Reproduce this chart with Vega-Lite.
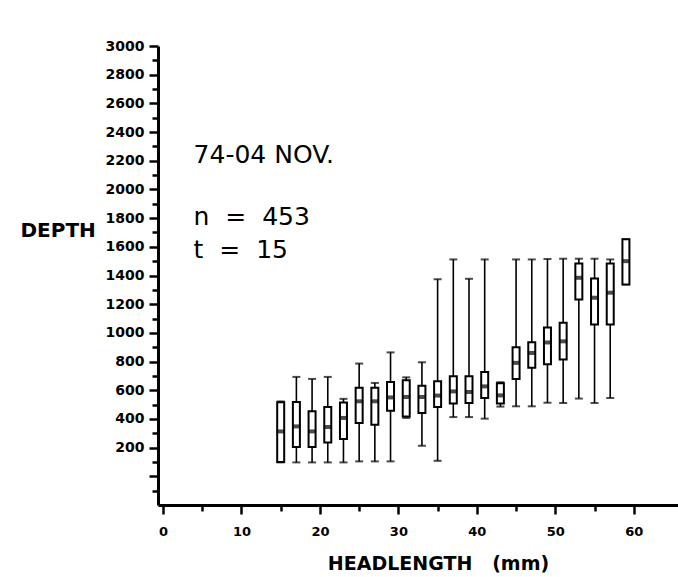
{
  "$schema": "https://vega.github.io/schema/vega-lite/v6.json",
  "width": 520,
  "height": 459,
  "autosize": {"type": "none"},
  "padding": {"left": 158, "top": 46, "right": 0, "bottom": 72},
  "datasets": {
    "boxes": [
      {"hl": 15, "min": 97, "q1": 100, "med": 313, "q3": 516, "max": 522},
      {"hl": 17, "min": 97, "q1": 204, "med": 348, "q3": 518, "max": 693},
      {"hl": 19, "min": 97, "q1": 204, "med": 313, "q3": 453, "max": 679},
      {"hl": 21, "min": 97, "q1": 236, "med": 344, "q3": 484, "max": 693},
      {"hl": 23, "min": 97, "q1": 260, "med": 407, "q3": 515, "max": 540},
      {"hl": 25, "min": 104, "q1": 372, "med": 523, "q3": 617, "max": 786},
      {"hl": 27, "min": 104, "q1": 360, "med": 523, "q3": 617, "max": 651},
      {"hl": 29, "min": 104, "q1": 457, "med": 550, "q3": 658, "max": 864},
      {"hl": 31, "min": 407, "q1": 417, "med": 553, "q3": 669, "max": 690},
      {"hl": 33, "min": 213, "q1": 442, "med": 553, "q3": 632, "max": 795},
      {"hl": 35, "min": 108, "q1": 484, "med": 563, "q3": 662, "max": 1374},
      {"hl": 37, "min": 413, "q1": 507, "med": 592, "q3": 697, "max": 1512},
      {"hl": 39, "min": 413, "q1": 511, "med": 588, "q3": 697, "max": 1377},
      {"hl": 41, "min": 402, "q1": 546, "med": 627, "q3": 727, "max": 1512},
      {"hl": 43, "min": 486, "q1": 507, "med": 564, "q3": 648, "max": 656},
      {"hl": 45, "min": 488, "q1": 679, "med": 791, "q3": 900, "max": 1512},
      {"hl": 47, "min": 488, "q1": 756, "med": 860, "q3": 935, "max": 1512},
      {"hl": 49, "min": 513, "q1": 782, "med": 933, "q3": 1037, "max": 1515},
      {"hl": 51, "min": 511, "q1": 814, "med": 941, "q3": 1070, "max": 1517},
      {"hl": 53, "min": 542, "q1": 1233, "med": 1384, "q3": 1484, "max": 1517},
      {"hl": 55, "min": 511, "q1": 1059, "med": 1245, "q3": 1379, "max": 1517},
      {"hl": 57, "min": 546, "q1": 1059, "med": 1280, "q3": 1484, "max": 1512},
      {"hl": 59, "min": 1338, "q1": 1338, "med": 1500, "q3": 1652, "max": 1652}
    ],
    "notes": [
      {"label": "74-04 NOV.", "hl": 3.9, "depth": 2240},
      {"label": "n\u00a0\u00a0=\u00a0\u00a0453", "hl": 3.9, "depth": 1808},
      {"label": "t\u00a0\u00a0=\u00a0\u00a015", "hl": 3.9, "depth": 1578}
    ]
  },
  "config": {
    "view": {"stroke": null},
    "font": "DejaVu Sans",
    "axisX": {
      "tickWidth": 2.5, "tickColor": "black",
      "domainWidth": 3, "domainColor": "black",
      "labelColor": "black", "labelFont": "DejaVu Sans", "labelFontWeight": "bold", "labelFontSize": 13,
      "labelPadding": 11, "labelFlush": false, "labelOverlap": false, "grid": false,
      "titleFont": "DejaVu Sans", "titleFontSize": 19, "titleFontWeight": "bold",
      "titleColor": "black", "titlePadding": 16, "titleX": 280
    },
    "axisY": {
      "tickWidth": 2.5, "tickColor": "black",
      "domainWidth": 3, "domainColor": "black",
      "labelColor": "black", "labelFont": "DejaVu Sans", "labelFontWeight": "bold", "labelFontSize": 14,
      "labelPadding": 5, "labelOverlap": false, "labelFlush": false, "grid": false,
      "titleAngle": 0, "titleAlign": "left", "titleBaseline": "middle",
      "titleX": -138, "titleY": 184,
      "titleFont": "DejaVu Sans", "titleFontSize": 20, "titleFontWeight": "bold", "titleColor": "black"
    }
  },
  "layer": [
    {
      "data": {"name": "boxes"},
      "mark": {"type": "rule", "strokeWidth": 1.6, "color": "black"},
      "encoding": {
        "x": {
          "field": "hl", "type": "quantitative", "title": "HEADLENGTH\u00a0\u00a0\u00a0(mm)",
          "scale": {"domain": [0, 65], "nice": false},
          "axis": {
            "values": [0, 5, 10, 15, 20, 25, 30, 35, 40, 45, 50, 55, 60],
            "tickCount": 30,
            "labelExpr": "datum.value % 10 === 0 ? datum.label : ''",
            "tickSize": {"condition": {"test": "datum.value % 10 === 0", "value": 9}, "value": 6}
          }
        },
        "y": {
          "field": "min", "type": "quantitative", "title": "DEPTH",
          "scale": {"domain": [-200, 3000], "nice": false},
          "axis": {
            "values": [-100,0,100,200,300,400,500,600,700,800,900,1000,1100,1200,1300,1400,1500,1600,1700,1800,1900,2000,2100,2200,2300,2400,2500,2600,2700,2800,2900,3000],
            "tickCount": 60,
            "labelExpr": "datum.value % 200 === 0 && datum.value > 0 ? format(datum.value, 'd') : ''",
            "tickSize": {"condition": {"test": "datum.value % 200 === 0", "value": 9}, "value": 6}
          }
        },
        "y2": {"field": "max"}
      }
    },
    {
      "data": {"name": "boxes"},
      "mark": {"type": "tick", "orient": "horizontal", "size": 8, "thickness": 2, "color": "black"},
      "encoding": {
        "x": {"field": "hl", "type": "quantitative", "title": "HEADLENGTH\u00a0\u00a0\u00a0(mm)"},
        "y": {"field": "min", "type": "quantitative", "title": "DEPTH"}
      }
    },
    {
      "data": {"name": "boxes"},
      "mark": {"type": "tick", "orient": "horizontal", "size": 8, "thickness": 2, "color": "black"},
      "encoding": {
        "x": {"field": "hl", "type": "quantitative", "title": "HEADLENGTH\u00a0\u00a0\u00a0(mm)"},
        "y": {"field": "max", "type": "quantitative", "title": "DEPTH"}
      }
    },
    {
      "data": {"name": "boxes"},
      "mark": {"type": "bar", "width": 7, "fill": "white", "stroke": "black", "strokeWidth": 2},
      "encoding": {
        "x": {"field": "hl", "type": "quantitative", "title": "HEADLENGTH\u00a0\u00a0\u00a0(mm)"},
        "y": {"field": "q1", "type": "quantitative", "title": "DEPTH"},
        "y2": {"field": "q3"}
      }
    },
    {
      "data": {"name": "boxes"},
      "mark": {"type": "tick", "orient": "horizontal", "size": 8, "thickness": 4, "color": "black"},
      "encoding": {
        "x": {"field": "hl", "type": "quantitative", "title": "HEADLENGTH\u00a0\u00a0\u00a0(mm)"},
        "y": {"field": "med", "type": "quantitative", "title": "DEPTH"}
      }
    },
    {
      "data": {"name": "notes"},
      "mark": {"type": "text", "align": "left", "baseline": "middle", "font": "DejaVu Sans", "fontSize": 25, "color": "black"},
      "encoding": {
        "x": {"field": "hl", "type": "quantitative", "title": "HEADLENGTH\u00a0\u00a0\u00a0(mm)"},
        "y": {"field": "depth", "type": "quantitative", "title": "DEPTH"},
        "text": {"field": "label"}
      }
    }
  ]
}
